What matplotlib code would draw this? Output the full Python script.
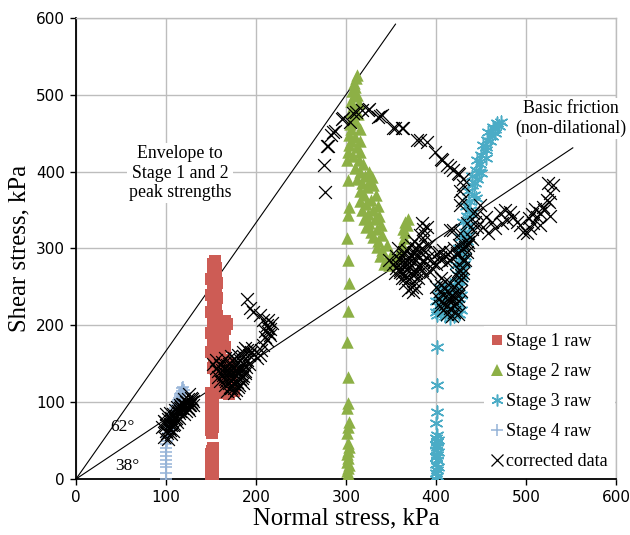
import matplotlib
matplotlib.use("Agg")
import matplotlib.pyplot as plt
from matplotlib.lines import Line2D

# ---------------- data ----------------
s1_x = [150,152,150,151,152,150,151,152,150,151,152,
        151,150,152,151,150,152,151,150,152,151,150,152,151,150,
        155,160,165,170,175,158,163,168,172,155,160,166,172,152,158,164,170,
        155,150,160,165,152,158,163,150,155,160,166,152,157,150,155,152,157,
        150,155,152,157,150,155,152,156,152,154,165,168,153,156]
s1_y = [0,4,8,12,16,20,24,28,32,36,40,
        60,64,68,72,76,80,84,88,92,96,100,104,108,112,
        112,115,112,110,115,120,125,120,128,130,135,140,138,145,150,155,150,
        160,165,168,172,178,182,185,190,195,200,205,205,212,218,222,228,235,
        240,245,250,255,260,265,270,275,280,284,195,202,150,120]

s2_x = [301,302,301,302,303,301,302,301,302,303,302,301,302,303,301,302,302,301,302,303,302,301,302,303,302,301,
        302,303,305,303,306,304,307,305,308,306,309,307,310,309,311,312,312,314,313,311,315,310,316,
        312,316,308,314,319,310,316,321,312,318,323,315,320,326,329,325,330,316,322,328,333,318,324,330,335,
        320,326,332,337,322,328,334,339,330,336,340,334,340,345,338,344,350,342,348,353,357,360,362,364,366,
        368,369,366,363]
s2_y = [2,6,10,14,18,22,27,32,37,42,47,60,68,74,92,99,133,178,219,255,285,314,344,354,389,415,
        425,435,440,448,455,462,470,478,485,492,498,505,510,516,522,526,500,490,475,465,455,445,440,
        432,425,420,415,410,405,400,395,390,385,380,375,370,400,393,387,382,362,358,363,370,350,345,350,355,
        338,333,338,342,328,322,326,330,315,310,318,302,298,305,290,286,292,280,278,283,290,298,306,314,322,
        330,338,335,325]

s3_x = [400,401,400,401,402,400,401,400,401,402,400,401,400,401,402,400,401,400,401,401,401,401,
        400,405,410,415,420,425,428,402,408,414,420,426,400,406,412,418,424,428,402,408,414,420,426,
        403,410,416,422,428,
        424,428,422,427,432,425,430,434,428,432,437,430,434,438,433,437,442,436,440,445,440,444,449,
        445,450,455,452,457,462,458,463,468,465,470,472,460,455,448,443,
        431,435,439,444,450,456,466,426,429]
s3_y = [0,4,8,12,16,20,25,28,31,35,38,41,44,48,51,54,57,73,87,122,172,214,
        218,215,212,210,212,215,220,225,222,220,222,228,232,230,228,232,236,240,240,238,242,245,250,
        250,248,252,256,258,
        265,272,278,285,290,295,302,310,315,322,330,335,342,350,355,362,370,375,382,390,395,402,410,
        415,422,428,435,441,447,452,458,463,455,460,465,440,418,400,385,
        280,318,345,366,398,432,450,300,262]

s4_x = [100,100,100,100,100,100,100,100,100,101,101,102,103,104,105,106,107,108,109,110,111,
        112,113,114,115,116,117,118,118,119,120,121]
s4_y = [0,8,15,20,25,30,35,40,45,50,55,60,64,68,72,76,80,84,88,92,96,
        100,103,106,108,110,112,114,118,120,116,112]

cd_x = [98,102,106,100,104,108,96,100,104,108,112,98,102,106,110,100,104,108,112,114,110,116,118,120,
        122,124,118,122,126,128,124,128,130,126,120,116,112,130,126,114,
        101,103,105,99,107,109,111,113,115,117,119,121,123,125,127,129,
        152,155,158,160,156,162,165,168,163,160,166,170,172,168,175,178,180,176,174,178,182,185,180,184,
        188,186,190,182,178,174,170,166,172,176,180,185,190,186,192,188,194,170,165,172,158,162,177,183,189,192,
        167,171,175,179,183,187,169,173,177,181,185,164,168,176,184,188,172,180,
        190,193,197,204,208,212,213,210,215,212,208,204,201,213,218,216,214,210,206,198,195,
        277,276,280,283,288,295,304,311,318,325,338,340,352,362,379,390,399,405,412,419,426,430,430,427,429,427,
        286,297,324,336,354,363,382,407,416,424,279,308,
        348,352,356,355,360,364,360,365,368,372,370,366,373,374,376,380,378,382,385,380,376,372,368,372,376,
        380,384,388,386,382,386,384,390,388,392,364,358,354,362,368,376,372,390,378,369,
        358,362,366,370,374,378,382,386,362,366,370,374,378,382,360,368,376,384,
        395,400,405,410,415,420,425,398,403,408,412,418,423,428,432,436,440,416,430,393,388,
        449,441,434,427,419,430,423,416,404,397,430,
        456,452,462,466,471,477,482,486,490,493,497,501,504,508,512,516,519,523,527,530,524,
        473,479,458,445,510,503,520,507,525,527,515,
        400,404,408,402,406,410,414,418,412,416,420,424,422,426,420,424,428,415,410,406,428,418,412,430,426,422,
        404,408,412,416,420,424,406,410,414,418,422,
        428,430,432,434,436,438,440,443,446]
cd_y = [55,52,58,62,64,62,68,70,72,70,74,76,78,80,78,84,86,84,82,86,90,88,92,84,
        88,92,98,100,96,100,104,106,102,110,104,96,94,96,90,80,
        60,66,70,74,76,72,80,88,92,94,98,96,100,98,96,104,
        150,145,140,148,155,152,145,140,135,128,130,125,118,115,112,116,120,124,130,135,130,125,140,145,
        140,150,155,155,150,145,150,158,160,158,162,165,168,160,162,170,165,135,122,140,133,142,142,135,146,150,
        128,120,118,126,140,150,142,136,128,122,134,138,148,152,132,138,128,145,
        234,222,218,213,207,201,196,192,187,181,174,161,157,207,203,195,190,185,168,163,170,
        374,409,433,448,453,468,465,478,480,482,472,474,457,457,441,438,425,417,409,402,397,390,383,375,363,357,
        452,470,480,471,457,457,441,415,406,398,434,476,
        285,280,275,290,285,280,270,265,272,268,260,255,250,243,258,262,272,278,285,290,295,290,298,305,310,
        305,300,295,310,318,325,333,328,318,305,295,300,268,262,285,282,278,288,248,246,
        278,290,282,276,266,268,275,282,268,262,286,294,300,296,272,280,288,272,
        275,280,285,290,295,300,305,290,295,298,282,288,292,298,302,308,312,324,285,270,265,
        357,346,333,320,324,307,294,285,289,281,285,
        341,328,335,327,346,350,348,341,335,331,322,320,327,333,341,346,354,363,372,383,385,
        333,337,320,328,352,340,350,345,360,342,330,
        250,245,240,235,230,228,235,240,245,222,218,215,228,232,250,255,260,255,258,262,245,212,215,268,272,265,
        225,220,225,230,226,238,252,248,242,236,244,
        265,275,285,295,305,315,325,335,345]

env_x = [0, 355]
env_y = [0, 592]
fric_x = [0, 552]
fric_y = [0, 431]

x_ticks = [0, 100, 200, 300, 400, 500, 600]
y_ticks = [0, 100, 200, 300, 400, 500, 600]

# ---------------- figure ----------------
fig = plt.figure(figsize=(6.3, 5.35), dpi=100)
ax = fig.add_axes([76/630, 1-479/535, 540/630, 461/535])

grid_c = '#BDBDBD'
ax.set_xlim(0, 600)
ax.set_ylim(0, 600)
ax.set_xticks(x_ticks)
ax.set_yticks(y_ticks)
ax.grid(True, color=grid_c, linewidth=1.0, zorder=0)
ax.set_axisbelow(True)
for sp in ['top', 'right']:
    ax.spines[sp].set_color(grid_c)
    ax.spines[sp].set_linewidth(1.0)
for sp in ['left', 'bottom']:
    ax.spines[sp].set_color('black')
    ax.spines[sp].set_linewidth(1.3)
ax.tick_params(direction='out', length=4, width=1, labelsize=11, pad=4)
for lab in ax.get_xticklabels() + ax.get_yticklabels():
    lab.set_family('DejaVu Sans')

serif = ['Liberation Serif', 'DejaVu Serif']

red = '#CD5C55'
green = '#8DB046'
cyan = '#4BACC6'
lblue = '#95B3D7'
ast = (6, 2, 0)

ax.plot(env_x, env_y, color='black', lw=0.8, zorder=2)
ax.plot(fric_x, fric_y, color='black', lw=0.8, zorder=2)

ax.scatter(s1_x, s1_y, marker='s', s=70, color=red, linewidths=0, zorder=3)
ax.scatter(s2_x, s2_y, marker='^', s=80, color=green, linewidths=0, zorder=3)
ax.scatter(s3_x, s3_y, marker=ast, s=85, color=cyan, linewidths=1.1, zorder=3)
ax.scatter(s4_x, s4_y, marker='+', s=80, color=lblue, linewidths=1.1, zorder=3)
ax.scatter(cd_x, cd_y, marker='x', s=85, color='black', linewidths=0.9, zorder=4)

bb = dict(facecolor='white', edgecolor='none', pad=1.5)
ax.text(115.6, 398, 'Envelope to\nStage 1 and 2\npeak strengths', ha='center', va='center',
        fontsize=12.8, family=serif, linespacing=1.2, bbox=bb, zorder=5)
ax.text(550, 469, 'Basic friction\n(non-dilational)', ha='center', va='center',
        fontsize=12.8, family=serif, linespacing=1.2, bbox=bb, zorder=5, clip_on=False)
ax.text(52, 68, '62°', ha='center', va='center', fontsize=12.5, family=serif, zorder=5)
ax.text(57, 17, '38°', ha='center', va='center', fontsize=12.5, family=serif, zorder=5)

ax.set_xlabel('Normal stress, kPa', fontsize=17.8, family=serif, labelpad=2)
ax.set_ylabel('Shear stress, kPa', fontsize=17.8, family=serif, labelpad=4)

handles = [
    Line2D([], [], marker='s', ls='none', color=red, markersize=7.5, markeredgewidth=0),
    Line2D([], [], marker='^', ls='none', color=green, markersize=8, markeredgewidth=0),
    Line2D([], [], marker=ast, ls='none', color=cyan, markersize=8.5, markeredgewidth=1.1),
    Line2D([], [], marker='+', ls='none', color=lblue, markersize=8.5, markeredgewidth=1.1),
    Line2D([], [], marker='x', ls='none', color='black', markersize=8.5, markeredgewidth=0.9),
]
labels = ['Stage 1 raw', 'Stage 2 raw', 'Stage 3 raw', 'Stage 4 raw', 'corrected data']
leg = ax.legend(handles, labels, loc='lower right', bbox_to_anchor=(1.005, -0.005),
                frameon=True, fancybox=False, framealpha=1, edgecolor='none',
                prop={'family': serif, 'size': 13}, handlelength=0.7, handletextpad=0.15,
                labelspacing=0.72, borderpad=0.4, borderaxespad=0.2)
leg.set_zorder(6)

fig.savefig('out.png', dpi=100)
